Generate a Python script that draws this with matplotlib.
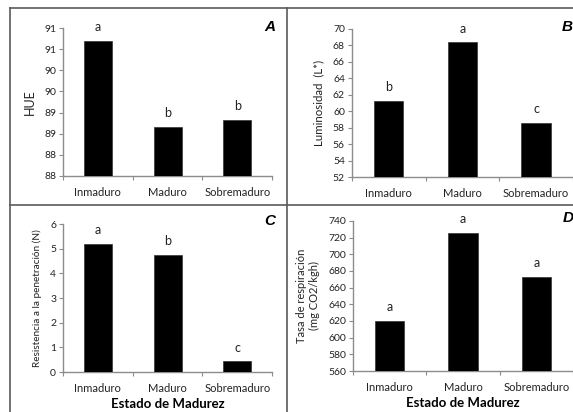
import numpy as np
import matplotlib.pyplot as plt
from matplotlib.lines import Line2D

plt.rcParams['font.family'] = ['Lato', 'DejaVu Sans']

categorias = ['Inmaduro', 'Maduro', 'Sobremaduro']

hue = [91.19, 89.15, 89.32]
hue_letras = ['a', 'b', 'b']
hue_ticks = [88.0, 88.5, 89.0, 89.5, 90.0, 90.5, 91.0, 91.5]
hue_ticklabels = ['88', '88', '89', '89', '90', '90', '91', '91']

lum = [61.3, 68.35, 58.6]
lum_letras = ['b', 'a', 'c']
lum_ticks = [52, 54, 56, 58, 60, 62, 64, 66, 68, 70]

resist = [5.20, 4.74, 0.43]
resist_letras = ['a', 'b', 'c']
resist_ticks = [0, 1, 2, 3, 4, 5, 6]

resp = [620.4, 725.6, 672.8]
resp_letras = ['a', 'a', 'a']
resp_ticks = [560, 580, 600, 620, 640, 660, 680, 700, 720, 740]

gris = '#8c8c8c'

fig = plt.figure(figsize=(5.73, 4.12), dpi=100)


def panel(rect, valores, letras, ticks, ticklabels, ylabel, ylab_size, xlabel=False):
    ax = fig.add_axes(rect)
    x = np.arange(len(categorias))
    ax.bar(x, valores, width=0.4, color='black', edgecolor='#333333', linewidth=0.5, zorder=3)
    for xi, v, l in zip(x, valores, letras):
        ax.annotate(l, (xi, v), xytext=(0, 10), textcoords='offset points',
                    ha='center', va='center', fontsize=9, color='#222222',
                    annotation_clip=False)
    ax.set_xlim(-0.5, 2.5)
    ax.set_ylim(ticks[0], ticks[-1])
    ax.set_yticks(ticks)
    ax.set_yticklabels(ticklabels if ticklabels else [str(t) for t in ticks])
    ax.set_xticks([-0.5, 0.5, 1.5, 2.5])
    ax.set_xticklabels([])
    ax.set_xticks(x, minor=True)
    ax.set_xticklabels(categorias, minor=True)
    ax.tick_params(axis='x', which='minor', length=0, labelsize=8, pad=8, colors='#222222')
    ax.tick_params(axis='x', which='major', length=3, color=gris)
    ax.tick_params(axis='y', length=3, labelsize=7.5, pad=2, colors='#222222')
    ax.tick_params(axis='y', color=gris)
    for s in ['top', 'right']:
        ax.spines[s].set_visible(False)
    for s in ['left', 'bottom']:
        ax.spines[s].set_color(gris)
        ax.spines[s].set_linewidth(1.0)
    ax.set_ylabel(ylabel, fontsize=ylab_size, color='#222222', labelpad=6)
    if xlabel:
        ax.set_xlabel('Estado de Madurez', fontsize=9.5, fontweight='bold', labelpad=3)
    return ax


axA = panel([0.110, 0.573, 0.365, 0.359], hue, hue_letras, hue_ticks, hue_ticklabels, 'HUE', 9)
axB = panel([0.614, 0.570, 0.386, 0.360], lum, lum_letras, lum_ticks, None, 'Luminosidad  (L*)', 8.3)
axC = panel([0.110, 0.097, 0.365, 0.359], resist, resist_letras, resist_ticks, None,
            'Resistencia a la penetración (N)', 7.2, xlabel=True)
axD = panel([0.616, 0.0995, 0.384, 0.3645], resp, resp_letras, resp_ticks, None,
            'Tasa de respiración\n(mg CO2/kgh)', 8, xlabel=True)

# letras de los paneles
for letra, (px, py) in zip('ABCD', [(270, 27), (567, 27), (270, 221), (568, 218)]):
    fig.text(px / 573, 1 - py / 412, letra, ha='center', va='center', fontsize=11,
             fontweight='bold', fontstyle='italic', family=['Liberation Sans', 'DejaVu Sans'])

# marco del cuadro
marco = dict(color='#5a5a5a', linewidth=1.2, transform=fig.transFigure)
fig.add_artist(Line2D([10 / 573, 1], [1 - 8 / 412, 1 - 8 / 412], **marco))
fig.add_artist(Line2D([10 / 573, 10 / 573], [0, 1 - 8 / 412], **marco))
fig.add_artist(Line2D([287 / 573, 287 / 573], [0, 1 - 8 / 412], **marco))
fig.add_artist(Line2D([10 / 573, 1], [1 - 205 / 412, 1 - 205 / 412], **marco))

# titulo cortado arriba (solo se ven los descendentes)
fig.text(248 / 573, 1 + 4 / 412, '(Figura 1)', ha='center', va='baseline', fontsize=16)

fig.savefig('out.png', dpi=100)
